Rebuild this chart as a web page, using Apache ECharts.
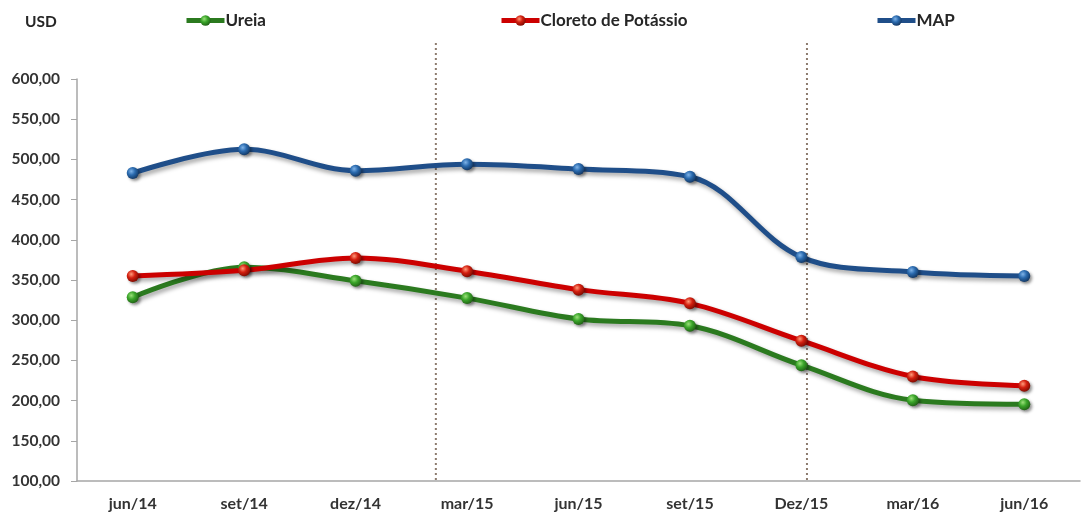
<!DOCTYPE html>
<html><head><meta charset="utf-8">
<script src="https://cdn.jsdelivr.net/npm/echarts@6/dist/echarts.min.js"></script>
<style>html,body{margin:0;padding:0;background:#fff}#c{width:1081px;height:519px}</style>
</head><body><div id="c"></div>
<script>
const categories = ['jun/14','set/14','dez/14','mar/15','jun/15','set/15','Dez/15','mar/16','jun/16'];
const ureia   = [328.5, 366, 349, 327.5, 301.5, 293, 244, 200.5, 195.5];
const cloreto = [355, 362, 377.5, 361, 338, 321, 274.5, 230, 218.5];
const map     = [483, 512.5, 486, 494, 488, 478.5, 378.5, 360, 355];
const dividerPositions = [2.72, 6.05]; // in category-index units

const FONT = 'Lato, "Open Sans", sans-serif';
function sphere(light, mid, dark){
  return {type:'radial', x:0.38, y:0.35, r:0.7, colorStops:[
    {offset:0,color:light},{offset:0.45,color:mid},{offset:1,color:dark}]};
}
function mk(name, data, lineColor, light, mid, dark){
  return {
    name, type:'line', data, smooth:0.35, symbol:'circle', symbolSize:12,
    lineStyle:{width:5, color:lineColor, shadowColor:'rgba(0,0,0,0.35)', shadowBlur:4, shadowOffsetX:2, shadowOffsetY:3},
    itemStyle:{color:sphere(light, mid, dark), borderWidth:0, shadowColor:'rgba(0,0,0,0.4)', shadowBlur:3, shadowOffsetX:2, shadowOffsetY:2},
    emphasis:{disabled:true}, z:3
  };
}
const chart = echarts.init(document.getElementById('c'));
const legendBase = {top:7, itemWidth:38, itemHeight:13,
  lineStyle:{width:5, shadowBlur:0, shadowOffsetX:0, shadowOffsetY:0},
  itemStyle:{shadowBlur:0, shadowOffsetX:0, shadowOffsetY:0},
  textStyle:{fontFamily:FONT, fontWeight:'bold', fontSize:17, color:'#262626', padding:[0,0,0,-4]}, itemGap:2, selectedMode:false};
chart.setOption({
  animation:false,
  backgroundColor:'#fff',
  title:{text:'USD', left:20, top:9, textStyle:{fontFamily:FONT, fontWeight:'bold', fontSize:15.5, color:'#262626'}},
  legend:[
    Object.assign({}, legendBase, {data:['Ureia'], left:179}),
    Object.assign({}, legendBase, {data:['Cloreto de Potássio'], left:494}),
    Object.assign({}, legendBase, {data:['MAP'], left:870})
  ],
  grid:{left:77, right:1, top:79, bottom:38},
  xAxis:{type:'category', data:categories, boundaryGap:true,
    axisLine:{lineStyle:{color:'#a6a6a6', width:1.5}}, axisTick:{show:false},
    axisLabel:{fontFamily:FONT, fontWeight:'bold', fontSize:16, color:'#333', margin:15}},
  yAxis:{type:'value', min:100, max:600, interval:50,
    axisLine:{show:true, lineStyle:{color:'#a6a6a6', width:1.5}},
    axisTick:{show:true, length:6, lineStyle:{color:'#a6a6a6'}},
    splitLine:{show:false},
    axisLabel:{fontFamily:FONT, fontWeight:'bold', fontSize:15.5, color:'#333', margin:17,
      formatter:v=>v.toFixed(2).replace('.',',')}},
  series:[
    mk('Ureia', ureia, '#2b7a1f', '#9be07a', '#3aa52a', '#1f5e14'),
    mk('Cloreto de Potássio', cloreto, '#cc0000', '#ff9a7a', '#d42010', '#7a0a00'),
    mk('MAP', map, '#1f4e89', '#7fb3e8', '#2a6aae', '#12345e')
  ]
});
const x0 = chart.convertToPixel({xAxisIndex:0}, 0);
const x1 = chart.convertToPixel({xAxisIndex:0}, 1);
const yb = chart.convertToPixel({yAxisIndex:0}, 100);
chart.setOption({graphic: dividerPositions.map(p=>({
  type:'line', shape:{x1:x0+(x1-x0)*p, y1:43, x2:x0+(x1-x0)*p, y2:yb},
  style:{stroke:'#8c7b6e', lineWidth:2, lineDash:[2,3]}, z:1, silent:true
}))});
</script></body></html>
